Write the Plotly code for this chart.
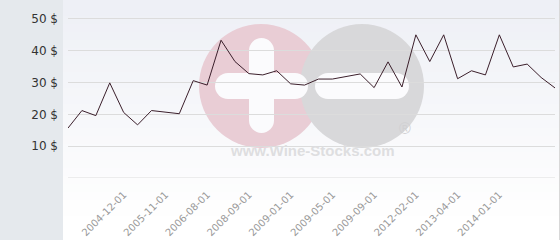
import plotly.graph_objects as go

# ---- data ----
prices = [15.7, 21.2, 19.6, 29.9, 20.6, 16.7, 21.2, 20.6, 20.2, 30.6,
          29.2, 43.3, 36.6, 32.8, 32.4, 33.7, 29.6, 29.2, 31.1, 31.1,
          31.9, 32.7, 28.4, 36.5, 28.6, 45.0, 36.6, 45.0, 31.2, 33.7,
          32.4, 45.0, 34.9, 35.8, 31.6, 28.3]
label_positions = [4, 7, 10, 13, 16, 19, 22, 25, 28, 31]
date_labels = ["2004-12-01", "2005-11-01", "2006-08-01", "2008-09-01", "2009-01-01",
               "2009-05-01", "2009-09-01", "2012-02-01", "2013-04-01", "2014-01-01"]
y_ticks = [0, 10, 20, 30, 40, 50]
y_labels = ["", "10 $", "20 $", "30 $", "40 $", "50 $"]

W, H = 560, 240
L, R, T, B = 68, 5, 3, 62
PW, PH = W - L - R, H - T - B


def px(x):
    return (x - L) / PW


def py(y):
    return (H - B - y) / PH


x_idx = list(range(len(prices)))

fig = go.Figure()
fig.add_trace(go.Scatter(x=x_idx, y=prices, mode="lines",
                         line=dict(color="#3b1f2b", width=1),
                         hoverinfo="y", cliponaxis=False))

shapes = []
# gradient background of the chart area
n = 30
for i in range(n):
    y0 = H * i / n
    y1 = H * (i + 1) / n
    t = min(1.0, (i + 0.5) / n / 0.9)
    r = int(238 + (255 - 238) * t)
    g = int(240 + (255 - 240) * t)
    b = int(246 + (255 - 246) * t)
    shapes.append(dict(type="rect", xref="paper", yref="paper",
                       x0=px(63), x1=px(W), y0=py(y1), y1=py(y0),
                       fillcolor=f"rgb({r},{g},{b})", line_width=0, layer="below"))

# watermark
shapes.append(dict(type="rect", xref="paper", yref="paper",
                   x0=px(195), x1=px(427), y0=py(174), y1=py(150),
                   fillcolor="rgba(255,255,255,0.15)", line_width=0, layer="below"))
shapes.append(dict(type="circle", xref="paper", yref="paper",
                   x0=px(199), x1=px(323), y0=py(148), y1=py(24),
                   fillcolor="rgb(233,205,213)", line_width=0, layer="below"))
shapes.append(dict(type="circle", xref="paper", yref="paper",
                   x0=px(300), x1=px(424), y0=py(148), y1=py(24),
                   fillcolor="rgb(216,216,218)", line_width=0, layer="below"))


def pill(x0, x1, y0, y1, color="rgb(251,251,253)"):
    out = []
    if (x1 - x0) >= (y1 - y0):
        rad = (y1 - y0) / 2
        out.append(dict(type="rect", xref="paper", yref="paper",
                        x0=px(x0 + rad), x1=px(x1 - rad), y0=py(y1), y1=py(y0),
                        fillcolor=color, line_width=0, layer="below"))
        for cx in (x0 + rad, x1 - rad):
            out.append(dict(type="circle", xref="paper", yref="paper",
                            x0=px(cx - rad), x1=px(cx + rad), y0=py(y1), y1=py(y0),
                            fillcolor=color, line_width=0, layer="below"))
    else:
        rad = (x1 - x0) / 2
        out.append(dict(type="rect", xref="paper", yref="paper",
                        x0=px(x0), x1=px(x1), y0=py(y1 - rad), y1=py(y0 + rad),
                        fillcolor=color, line_width=0, layer="below"))
        for cy in (y0 + rad, y1 - rad):
            out.append(dict(type="circle", xref="paper", yref="paper",
                            x0=px(x0), x1=px(x1), y0=py(cy + rad), y1=py(cy - rad),
                            fillcolor=color, line_width=0, layer="below"))
    return out


shapes += pill(249, 274, 38, 133)
shapes += pill(215, 308, 73, 99)
shapes += pill(315, 409, 73, 99)

# bottom grid line (value 0)
shapes.append(dict(type="line", xref="paper", yref="y",
                   x0=0, x1=1, y0=y_ticks[0], y1=y_ticks[0],
                   line=dict(color="#dcdcdc", width=1), layer="below"))
# right border
shapes.append(dict(type="line", xref="paper", yref="paper",
                   x0=px(559.5), x1=px(559.5), y0=py(H), y1=py(0),
                   line=dict(color="#d8d8d8", width=1)))

annotations = [
    dict(text="<b>www.Wine-Stocks.com</b>", xref="paper", yref="paper",
         x=px(312), y=py(161), showarrow=False,
         font=dict(family="Liberation Sans, Arial", size=15, color="rgb(222,222,224)")),
    dict(text="®", xref="paper", yref="paper",
         x=px(413), y=py(139), showarrow=False,
         font=dict(family="Liberation Sans, Arial", size=16, color="rgb(208,208,210)")),
]

fig.update_layout(
    width=W, height=H,
    margin=dict(l=L, r=R, t=T, b=B, pad=0),
    paper_bgcolor="#e5e9ed",
    plot_bgcolor="rgba(0,0,0,0)",
    showlegend=False,
    shapes=shapes,
    annotations=annotations,
    font=dict(family="DejaVu Sans"),
    xaxis=dict(range=[0, len(prices) - 1], tickmode="array",
               tickvals=label_positions, ticktext=date_labels,
               tickangle=-45, showgrid=False, zeroline=False, showline=False,
               ticks="", ticklabelstandoff=8,
               tickfont=dict(family="DejaVu Sans", size=10, color="#999999")),
    yaxis=dict(range=[0, 55], tickmode="array", tickvals=y_ticks, ticktext=y_labels,
               showgrid=True, gridcolor="#dcdcdc", gridwidth=1, zeroline=False,
               showline=False, ticks="", ticklabelstandoff=9,
               tickfont=dict(family="DejaVu Sans", size=12, color="#333333")),
)

fig.write_html("out.html")
